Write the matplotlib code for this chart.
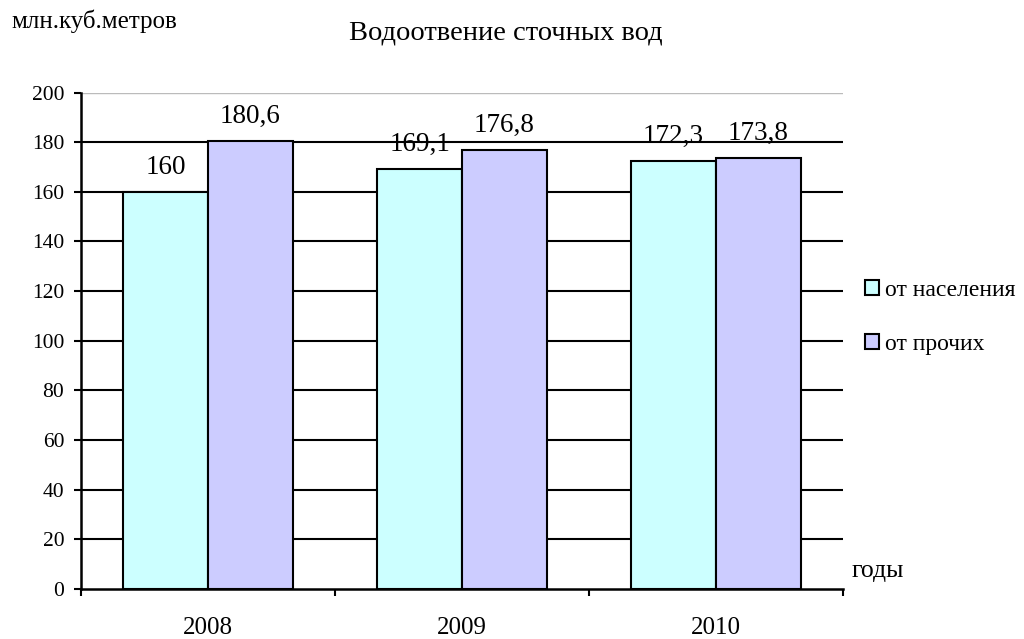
import matplotlib.pyplot as plt
import numpy as np

plt.rcParams["font.family"] = ["Liberation Serif", "DejaVu Serif"]

years = ["2008", "2009", "2010"]
population = [160, 169.1, 172.3]
other = [180.6, 176.8, 173.8]
series_names = ["от населения", "от прочих"]
y_ticks = [0, 20, 40, 60, 80, 100, 120, 140, 160, 180, 200]

CYAN = "#CCFFFF"
LILAC = "#CCCCFF"

fig = plt.figure(figsize=(10.24, 6.39), dpi=100)
ax = fig.add_axes([0.0791, 0.0782, 0.744, 0.777])

x = np.arange(len(years))
w = 1 / 3

# black horizontal grid, light top border at 200
for v in y_ticks[1:-1]:
    ax.axhline(v, color="black", lw=1.5, zorder=1)
ax.axhline(y_ticks[-1], color="#BBBBBB", lw=1.0, zorder=1)

b1 = ax.bar(x - w / 2, population, w, color=CYAN, edgecolor="black", lw=1.5,
            zorder=2, label=series_names[0])
b2 = ax.bar(x + w / 2, other, w, color=LILAC, edgecolor="black", lw=1.5,
            zorder=2, label=series_names[1])

for bars, vals in ((b1, population), (b2, other)):
    for rect, v in zip(bars, vals):
        txt = f"{v:g}".replace(".", ",")
        ax.annotate(txt, (rect.get_x() + rect.get_width() / 2, v),
                    xytext=(0, 13), textcoords="offset points",
                    ha="center", va="baseline", fontsize=19.5)

ax.set_xlim(-0.5, len(years) - 0.5)
ax.set_ylim(0, 200)
ax.set_yticks(y_ticks)
ax.tick_params(axis="y", direction="out", length=5, width=1.5, pad=7,
               labelsize=15.5)

ax.set_xticks(x)
ax.set_xticklabels(years)
ax.set_xticks(np.arange(len(years) + 1) - 0.5, minor=True)
ax.tick_params(axis="x", which="major", length=0, pad=20, labelsize=18)
ax.tick_params(axis="x", which="minor", direction="out", length=5, width=1.5)

for s in ("top", "right"):
    ax.spines[s].set_visible(False)
for s in ("left", "bottom"):
    ax.spines[s].set_linewidth(1.8)
    ax.spines[s].set_zorder(3)

fig.text(0.494, 0.948, "Водоотвение сточных вод", ha="center", va="center",
         fontsize=20.5)
fig.text(0.011, 0.966, "млн.куб.метров", ha="left", va="center", fontsize=18)
fig.text(0.832, 0.106, "годы", ha="left", va="center", fontsize=18.5)

ax.legend(handles=[b1, b2], loc="center left", bbox_to_anchor=(1.029, 0.547),
          frameon=False, fontsize=17, handlelength=0.6, handleheight=0.6,
          handletextpad=0.25, labelspacing=1.4, borderaxespad=0, borderpad=0)

fig.savefig("out.png", dpi=100)
